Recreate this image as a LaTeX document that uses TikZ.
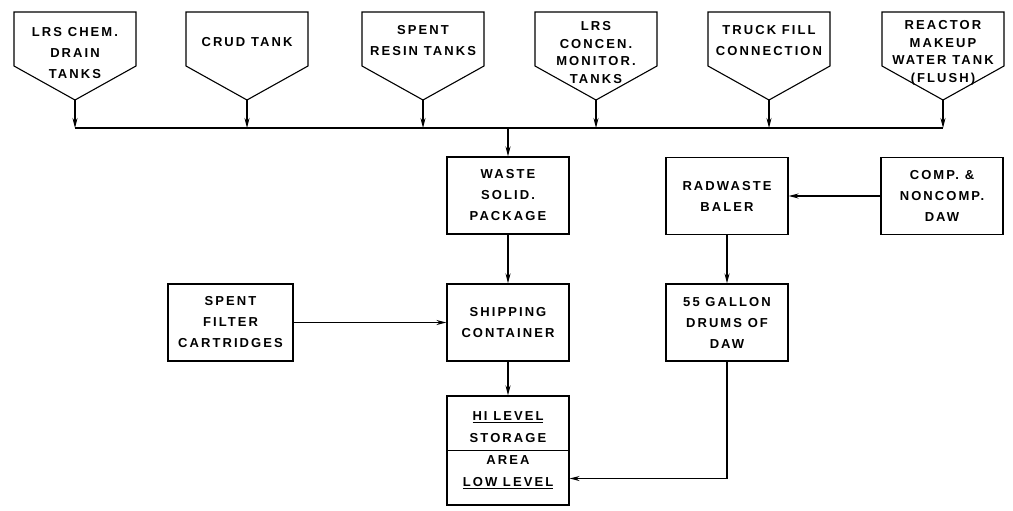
\documentclass[tikz,border=0pt]{standalone}
\usepackage{fontspec}
\setmainfont{Liberation Sans}
\newfontfamily\lblfont[LetterSpace=16]{Liberation Sans}
\usetikzlibrary{arrows.meta}

\tikzset{
  pipe/.style={line width=1.1pt},
  arr/.style={line width=1.1pt,-{Stealth[length=10pt,width=5pt]}},
  lbl/.style={align=center,inner sep=0pt,font=\lblfont\bfseries\fontsize{13}{21}\selectfont},
  tightlbl/.style={lbl,font=\lblfont\bfseries\fontsize{13}{17.5}\selectfont},
  box/.style={lbl,draw,line width=1.1pt,minimum width=122pt,minimum height=77pt}
}

\begin{document}
\begin{tikzpicture}[x=1pt,y=-1pt]
\useasboundingbox (0,0) rectangle (1013,511);

% tanks along the top
\foreach \n/\x in {chem/75,crud/247,resin/423,concen/596,truck/769,makeup/943}{
  \coordinate (\n-tip) at (\x,100);
  \draw[pipe] (\n-tip) -- ++(-61,-34) -- ++(0,-54) -- ++(122,0) -- ++(0,54) -- cycle;
}

\node[lbl] (chem-lbl) at (75,53) {LRS CHEM.\\DRAIN\\TANKS};
\node[lbl] (crud-lbl) at (247,42) {CRUD TANK};
\node[lbl] (resin-lbl) at (423,41) {SPENT\\RESIN TANKS};
\node[tightlbl] (concen-lbl) at (596,52.5) {LRS\\CONCEN.\\MONITOR.\\TANKS};
\node[lbl] (truck-lbl) at (769,41) {TRUCK FILL\\CONNECTION};
\node[tightlbl] (makeup-lbl) at (943,53) {REACTOR\\MAKEUP\\WATER TANK\\(FLUSH)};

% header line
\coordinate (bus-left) at (75,128);
\coordinate (bus-right) at (943,128);

% process boxes
\node[box] (waste) at (508,195.5) {WASTE\\SOLID.\\PACKAGE};
\node[box] (baler) at (727,196) {RADWASTE\\BALER};
\node[box] (comp) at (942,196) {COMP. \&\\NONCOMP.\\DAW};
\node[box,minimum width=125pt] (filter) at (230.5,322.5) {SPENT\\FILTER\\CARTRIDGES};
\node[box] (ship) at (508,322.5) {SHIPPING\\CONTAINER};
\node[box] (gallon) at (727,322.5) {55 GALLON\\DRUMS OF\\DAW};
\node[box,minimum height=109pt,font=\lblfont\bfseries\fontsize{13}{22}\selectfont] (store) at (508,450.5)
  {\underline{HI LEVEL}\\STORAGE\\AREA\\\underline{LOW LEVEL}};
\draw[pipe] (store.west) -- (store.east);

% connectors
\foreach \n in {chem,crud,resin,concen,truck,makeup}
  \draw[arr] (\n-tip) -- (\n-tip |- bus-left);
\draw[pipe] (bus-left) -- (bus-right);
\draw[arr] (waste.north |- bus-left) -- (waste.north);
\draw[arr] (waste) -- (ship);
\draw[arr] (ship) -- (store);
\draw[arr] (filter) -- (ship);
\draw[arr] (comp) -- (baler);
\draw[arr] (baler) -- (gallon);
\draw[arr] (gallon.south) |- ([yshift=-28pt]store.east);
\end{tikzpicture}
\end{document}
